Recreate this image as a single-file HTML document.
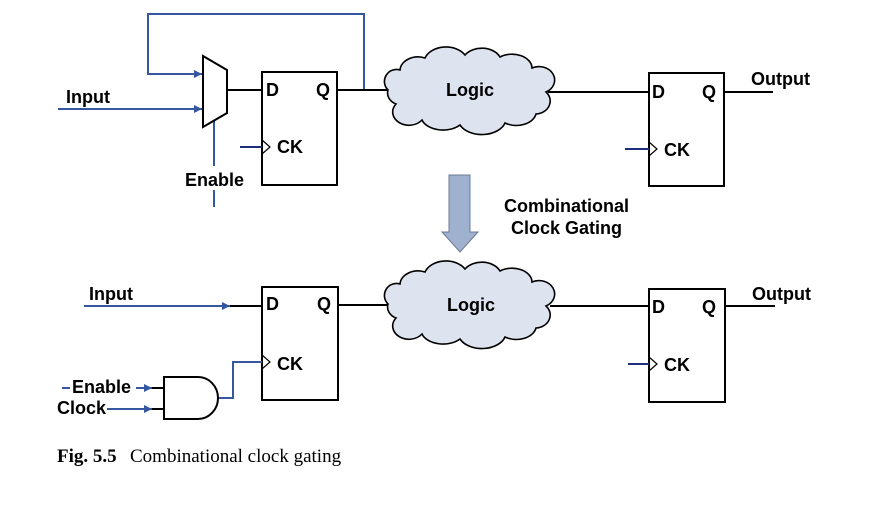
<!DOCTYPE html>
<html><head><meta charset="utf-8"><style>
body{margin:0;background:#fff}
svg{display:block}
text{font-family:"Liberation Sans",Arial,sans-serif;font-weight:bold;font-size:18px;fill:#000}
</style></head><body>
<svg width="884" height="514" viewBox="0 0 884 514" xmlns="http://www.w3.org/2000/svg">
<defs>
<marker id="a" markerWidth="8" markerHeight="8" refX="8" refY="4" orient="auto" markerUnits="userSpaceOnUse">
<path d="M0,0 L8,4 L0,8 Z" fill="#3457a0"/></marker>
<path id="cloud" d="M -70,-20 A 18 14 0 0 1 -45,-32 A 22 16 0 0 1 -5,-35 A 20 15 0 0 1 30,-33 A 20 14 0 0 1 62,-22 A 14 12 0 0 1 76,2 A 15 13 0 0 1 66,24 A 20 14 0 0 1 35,33 A 24 16 0 0 1 -10,35 A 22 14 0 0 1 -48,30 A 16 13 0 0 1 -74,14 A 14 12 0 0 1 -82,0 A 12 12 0 0 1 -70,-20 Z" fill="#dde4ef" stroke="#000" stroke-width="1.6"/>
</defs>
<g fill="none" stroke-width="2">
<polyline points="364,90 364,14 148,14 148,74 202,74" stroke="#3457a0" marker-end="url(#a)"/>
<line x1="58" y1="109" x2="202" y2="109" stroke="#3457a0" marker-end="url(#a)"/>
<line x1="214" y1="121" x2="214" y2="166" stroke="#3457a0"/>
<line x1="214" y1="190" x2="214" y2="207" stroke="#3457a0"/>
<polygon points="203,56 227,70 227,113 203,127" stroke="#000" fill="#fff"/>
<line x1="227" y1="90" x2="262" y2="90" stroke="#000"/>
<rect x="262" y="72" width="75" height="113" stroke="#000" fill="#fff"/>
<line x1="240" y1="147" x2="262" y2="147" stroke="#1f2e7a"/>
<polyline points="262,140 270,147 262,154" stroke="#000" stroke-width="1.2"/>
<line x1="337" y1="90" x2="392" y2="90" stroke="#000"/>
<line x1="548" y1="92" x2="649" y2="92" stroke="#000"/>
<rect x="649" y="73" width="75" height="113" stroke="#000" fill="#fff"/>
<line x1="625" y1="149" x2="649" y2="149" stroke="#1f2e7a"/>
<polyline points="649,142 657,149 649,156" stroke="#000" stroke-width="1.2"/>
<line x1="724" y1="92" x2="773" y2="92" stroke="#000"/>
<line x1="84" y1="306" x2="230" y2="306" stroke="#3457a0" marker-end="url(#a)"/>
<line x1="230" y1="306" x2="262" y2="306" stroke="#000"/>
<rect x="262" y="287" width="76" height="113" stroke="#000" fill="#fff"/>
<polyline points="218,398 233,398 233,362 262,362" stroke="#3457a0"/>
<polyline points="262,355 270,362 262,369" stroke="#000" stroke-width="1.2"/>
<path d="M164,377 L198,377 A20 21 0 0 1 198,419 L164,419 Z" stroke="#000" fill="#fff"/>
<line x1="152" y1="388" x2="164" y2="388" stroke="#000"/>
<line x1="152" y1="409" x2="164" y2="409" stroke="#000"/>
<line x1="136" y1="388" x2="152" y2="388" stroke="#3457a0" marker-end="url(#a)"/>
<line x1="107" y1="409" x2="152" y2="409" stroke="#3457a0" marker-end="url(#a)"/>
<line x1="62" y1="388" x2="70" y2="388" stroke="#3457a0"/>
<line x1="338" y1="305" x2="392" y2="305" stroke="#000"/>
<line x1="550" y1="306" x2="649" y2="306" stroke="#000"/>
<rect x="649" y="289" width="76" height="113" stroke="#000" fill="#fff"/>
<line x1="628" y1="364" x2="649" y2="364" stroke="#1f2e7a"/>
<polyline points="649,357 657,364 649,371" stroke="#000" stroke-width="1.2"/>
<line x1="725" y1="306" x2="775" y2="306" stroke="#000"/>
</g>
<use href="#cloud" transform="translate(470,90)"/>
<use href="#cloud" transform="translate(470,304)"/>
<path d="M449,175 L470,175 L470,232 L478,232 L460,252 L442,232 L449,232 Z" fill="#9fb1cf" stroke="#6b7a94" stroke-width="1"/>
<text x="66" y="103">Input</text>
<text x="185" y="186">Enable</text>
<text x="266" y="96">D</text><text x="316" y="96">Q</text>
<text x="277" y="153">CK</text>
<text x="446" y="96">Logic</text>
<text x="652" y="98">D</text><text x="702" y="98">Q</text>
<text x="664" y="156">CK</text>
<text x="751" y="85">Output</text>
<text x="504" y="212">Combinational</text>
<text x="511" y="234">Clock Gating</text>
<text x="89" y="300">Input</text>
<text x="266" y="310">D</text><text x="317" y="310">Q</text>
<text x="277" y="370">CK</text>
<text x="447" y="311">Logic</text>
<text x="652" y="313">D</text><text x="702" y="313">Q</text>
<text x="664" y="371">CK</text>
<text x="752" y="300">Output</text>
<text x="72" y="393">Enable</text>
<text x="57" y="414">Clock</text>
<text x="57" y="462" style="font-family:'Liberation Serif',serif;font-size:19px;font-weight:bold">Fig. 5.5</text>
<text x="130" y="462" style="font-family:'Liberation Serif',serif;font-size:19px;font-weight:normal">Combinational clock gating</text>
</svg>
</body></html>
